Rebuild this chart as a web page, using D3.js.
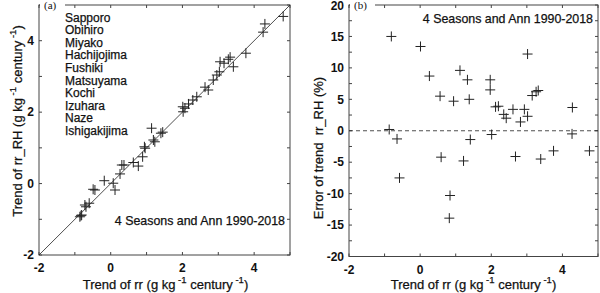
<!DOCTYPE html>
<html>
<head>
<meta charset="utf-8">
<script src="https://cdn.jsdelivr.net/npm/d3@7"></script>
<style>
  body { margin: 0; background: #fff; }
  text { font-family: "Liberation Sans", Arial, sans-serif; fill: #111; }
</style>
</head>
<body>
<div class="container"></div>
<script>
// Frame
const width = 600;
const height = 293;

// Panel (a): trend of rr vs trend of rr_RH (g kg-1 century-1)
const trendRR = [4.81, 4.30, 4.25, 3.77, 3.42, 3.33, 3.28, 3.05, 3.16, 3.03, 2.96, 2.86, 2.72, 2.63, 2.40,
  2.29, 2.17, 2.01, 2.07, 2.02, 1.14, 1.19, 1.40, 1.45, 0.94, 0.96, 1.23, 0.89, 0.77, 0.63,
  0.37, 0.31, 0.26, 0.07, 0.12, -0.18, -0.44, -0.49, -0.60, -0.72, -0.69, -0.81, -0.86, -0.83];
const trendRH = [4.68, 4.47, 4.24, 3.65, 3.27, 3.54, 3.48, 3.41, 3.37, 3.13, 3.04, 2.90, 2.62, 2.70, 2.43,
  2.34, 2.23, 2.15, 2.11, 2.01, 1.55, 1.22, 1.41, 1.44, 1.03, 0.99, 1.17, 0.75, 0.49, 0.59,
  0.52, 0.52, 0.27, 0.01, -0.18, 0.08, -0.18, -0.16, -0.55, -0.60, -0.65, -0.88, -0.93, -0.90];

// Panel (b): trend of rr vs error of trend rr_RH (%)
const errX = [-0.81, -0.87, -0.65, 0.01, 0.26, 0.56, 0.94, 1.12, 1.33, 1.38, 1.41, 1.97, 1.97, 2.01, 2.12,
  2.20, 2.35, 2.42, 2.61, 2.82, 2.93, 3.02, 3.02, 3.15, 3.26, 3.32, 4.27, 4.28, -0.58, 0.59,
  0.84, 0.82, 1.22, 2.68, 3.39, 3.75, 4.76];
const errY = [15.0, 0.2, -1.3, 13.4, 8.7, 5.5, 4.7, 9.6, 8.1, 5.0, -1.4, 8.1, 6.5, -0.6, 3.8,
  3.9, 2.6, 2.0, 3.4, 1.4, 3.4, 2.3, 12.2, 5.6, 6.2, 6.4, -0.5, 3.7, -7.5, -4.2,
  -10.3, -13.9, -4.8, -4.1, -4.5, -3.2, -3.2];

const stations = ['Sapporo', 'Obihiro', 'Miyako', 'Hachijojima', 'Fushiki', 'Matsuyama',
  'Kochi', 'Izuhara', 'Naze', 'Ishigakijima'];
const periodLabel = '4 Seasons and Ann 1990-2018';

const xTicks = [-2, -1, 0, 1, 2, 3, 4, 5];
const xLabels = [-2, 0, 2, 4];
const yTicksA = [-2, -1, 0, 1, 2, 3, 4, 5];
const yLabelsA = [-2, 0, 2, 4];
const yTicksB = d3.range(-20, 20.1, 2.5);
const yLabelsB = [-20, -15, -10, -5, 0, 5, 10, 15, 20];

const ink = '#222';
const frame = '#444';

const svg = d3.select('.container')
  .append('svg')
  .attr('width', width)
  .attr('height', height);

function crosses(g, xs, ys, x, y) {
  const s = 5;
  g.selectAll('.pt')
    .data(xs.map((d, i) => [d, ys[i]]))
    .enter()
    .append('path')
    .attr('class', 'pt')
    .attr('d', d => {
      const px = x(d[0]), py = y(d[1]);
      return `M${px - s},${py}H${px + s}M${px},${py - s}V${py + s}`;
    })
    .attr('stroke', ink)
    .attr('stroke-width', 1)
    .attr('fill', 'none');
}

// Box with inward ticks on all four sides
function box(g, x, y, xt, xl, yt, yl) {
  const [x0, x1] = x.range();
  const [y0, y1] = y.range();
  const tk = 3;
  const tickLine = (sel, fn) => sel.append('path').attr('d', fn).attr('stroke', frame).attr('fill', 'none');
  xt.forEach(v => {
    tickLine(g, `M${x(v)},${y0}v${-tk}M${x(v)},${y1}v${tk}`);
  });
  yt.forEach(v => {
    tickLine(g, `M${x0},${y(v)}h${tk}M${x1},${y(v)}h${-tk}`);
  });
  g.append('rect')
    .attr('x', x0).attr('y', y1)
    .attr('width', x1 - x0).attr('height', y0 - y1)
    .attr('fill', 'none').attr('stroke', frame).attr('stroke-width', 1);

  g.selectAll('.xl')
    .data(xl).enter().append('text')
    .attr('x', d => x(d)).attr('y', y0 + 17)
    .attr('text-anchor', 'middle')
    .attr('font-size', 12).attr('font-weight', 'bold')
    .text(d => String(d));
  g.selectAll('.yl')
    .data(yl).enter().append('text')
    .attr('x', x0 - 5).attr('y', d => Math.max(y(d), 5.5))
    .attr('dy', '0.35em')
    .attr('text-anchor', 'end')
    .attr('font-size', 12).attr('font-weight', 'bold')
    .text(d => String(d));
}

function unitTitle(t, lead) {
  t.append('tspan').text(lead + ' (g kg');
  t.append('tspan').attr('dy', -6).attr('font-size', 9.5).text(' -1');
  t.append('tspan').attr('dy', 6).text('  century');
  t.append('tspan').attr('dy', -6).attr('font-size', 9.5).text(' -1');
  t.append('tspan').attr('dy', 6).text(')');
}

function panelTag(g, x, y, tag) {
  g.append('rect').attr('x', x + 1).attr('y', y - 3).attr('width', 25).attr('height', 8).attr('fill', '#fff');
  g.append('text')
    .attr('x', x + 5).attr('y', y + 4)
    .attr('font-size', 11)
    .style('font-family', '"Liberation Serif", "Times New Roman", serif')
    .text(tag);
}

function heavy(sel) {
  return sel.attr('stroke', '#111').attr('stroke-width', 0.25);
}

// ---- Panel (a)
const xa = d3.scaleLinear().domain([-2, 5]).range([39, 290]);
const ya = d3.scaleLinear().domain([-2, 5]).range([255, 5]);
const ga = svg.append('g');

box(ga, xa, ya, xTicks, xLabels, yTicksA, yLabelsA);
ga.append('line')
  .attr('x1', xa(-2)).attr('y1', ya(-2))
  .attr('x2', xa(5)).attr('y2', ya(5))
  .attr('stroke', ink).attr('stroke-width', 0.8);
crosses(ga, trendRR, trendRH, xa, ya);
panelTag(ga, 39, 5, '(a)');

heavy(ga.selectAll('.st')
  .data(stations).enter().append('text')
  .attr('x', 65).attr('y', (d, i) => 21.5 + i * 12.6)
  .attr('font-size', 12)
  .text(d => d));
heavy(ga.append('text')
  .attr('x', 285).attr('y', 224.5)
  .attr('text-anchor', 'end')
  .attr('font-size', 12.4)
  .text(periodLabel));

unitTitle(heavy(ga.append('text')
  .attr('x', 165.5).attr('y', 288.5)
  .attr('text-anchor', 'middle')
  .attr('font-size', 13)), 'Trend of rr');
unitTitle(heavy(ga.append('text')
  .attr('transform', 'translate(22,121) rotate(-90)')
  .attr('text-anchor', 'middle')
  .attr('font-size', 13)), 'Trend of rr_RH');

// ---- Panel (b)
const xb = d3.scaleLinear().domain([-2, 5]).range([349, 598]);
const yb = d3.scaleLinear().domain([-20, 20]).range([256.5, 5]);
const gb = svg.append('g');

box(gb, xb, yb, xTicks, xLabels, yTicksB, yLabelsB);
gb.append('line')
  .attr('x1', xb(-2)).attr('y1', yb(0))
  .attr('x2', xb(5)).attr('y2', yb(0))
  .attr('stroke', ink).attr('stroke-width', 0.8)
  .attr('stroke-dasharray', '4,3');
crosses(gb, errX, errY, xb, yb);
panelTag(gb, 349, 5, '(b)');

heavy(gb.append('text')
  .attr('x', 593).attr('y', 22.5)
  .attr('text-anchor', 'end')
  .attr('font-size', 12.4)
  .text(periodLabel));

unitTitle(heavy(gb.append('text')
  .attr('x', 473.5).attr('y', 289)
  .attr('text-anchor', 'middle')
  .attr('font-size', 13)), 'Trend of rr');
heavy(gb.append('text')
  .attr('transform', 'translate(323,148) rotate(-90)')
  .attr('text-anchor', 'middle')
  .attr('font-size', 13)
  .attr('xml:space', 'preserve')
  .text('Error of trend  rr_RH (%)'));
</script>
</body>
</html>
